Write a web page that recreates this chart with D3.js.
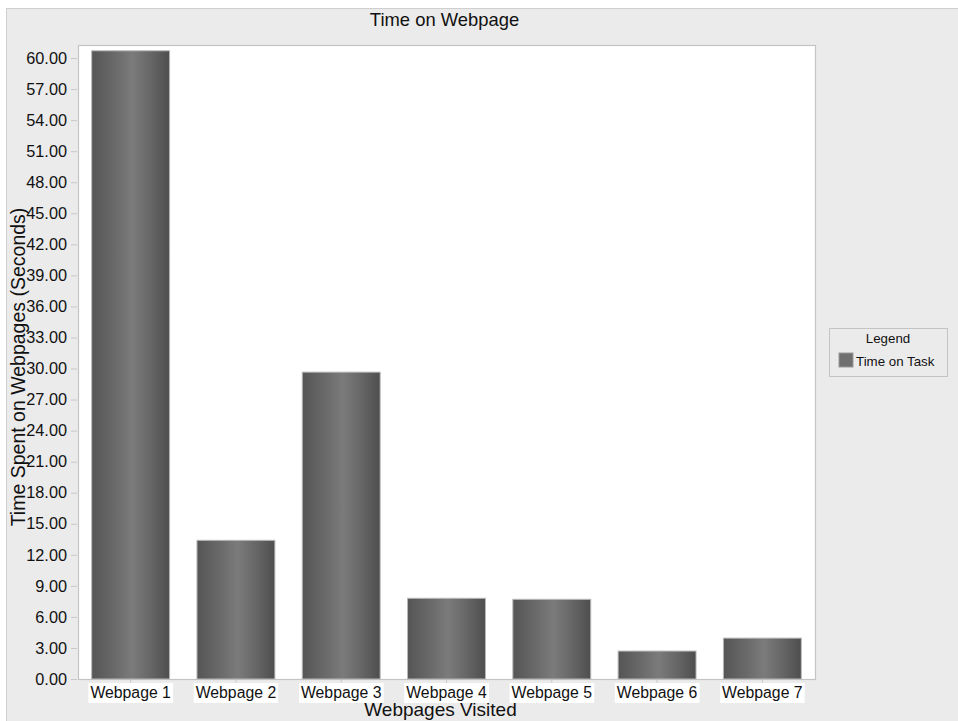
<!DOCTYPE html>
<html>
<head>
<meta charset="utf-8">
<script src="https://cdn.jsdelivr.net/npm/d3@7"></script>
<style>
  html, body { margin: 0; padding: 0; background: #ffffff; }
  svg { display: block; font-family: "Liberation Sans", Arial, sans-serif; }
</style>
</head>
<body>
<svg id="chart" width="958" height="721"></svg>
<script>
// Time spent on each webpage (seconds)
const categories = ["Webpage 1", "Webpage 2", "Webpage 3", "Webpage 4", "Webpage 5", "Webpage 6", "Webpage 7"];
const timeOnTask = [60.7, 13.4, 29.65, 7.8, 7.7, 2.7, 3.95];
const yTicks = [0, 3, 6, 9, 12, 15, 18, 21, 24, 27, 30, 33, 36, 39, 42, 45, 48, 51, 54, 57, 60];
const seriesName = "Time on Task";

const svg = d3.select("#chart");
const W = 958, H = 721;
const plot = { left: 78, right: 815, top: 45, bottom: 679 };
const FONT = "'Liberation Sans', Arial, sans-serif";

// Outer panel
svg.append("rect").attr("x", 0).attr("y", 0).attr("width", W).attr("height", H).attr("fill", "#ffffff");
svg.append("rect").attr("x", 6.5).attr("y", 8.5).attr("width", W).attr("height", H)
  .attr("fill", "#ebebeb").attr("stroke", "#cfcfcf").attr("stroke-width", 1);

// Plot background
svg.append("rect").attr("x", plot.left + 0.5).attr("y", plot.top + 0.5)
  .attr("width", plot.right - plot.left).attr("height", plot.bottom - plot.top)
  .attr("fill", "#ffffff").attr("stroke", "#c4c4c4").attr("stroke-width", 1.2);

const x = d3.scaleBand().domain(categories).range([plot.left, plot.right])
  .paddingInner(0.26).paddingOuter(0.13);
const y = d3.scaleLinear().domain([0, 61.26]).range([plot.bottom, plot.top]);

// Bar shading: dark edges, lighter middle
const defs = svg.append("defs");
const grad = defs.append("linearGradient").attr("id", "barGrad")
  .attr("x1", "0%").attr("x2", "100%").attr("y1", "0%").attr("y2", "0%");
[[0, "#555555"], [0.3, "#6a6a6a"], [0.52, "#7b7b7b"], [0.75, "#676767"], [1, "#4e4e4e"]]
  .forEach(([o, c]) => grad.append("stop").attr("offset", o).attr("stop-color", c));

// Bars
svg.append("g").selectAll("rect").data(categories).join("rect")
  .attr("x", d => x(d))
  .attr("y", (d, i) => y(timeOnTask[i]))
  .attr("width", x.bandwidth())
  .attr("height", (d, i) => y(0) - y(timeOnTask[i]))
  .attr("fill", "url(#barGrad)")
  .attr("stroke", "#b8b8b8").attr("stroke-width", 1);

// Y axis
const yAxis = d3.axisLeft(y).tickValues(yTicks).tickFormat(d3.format(".2f")).tickSize(6).tickPadding(4);
const gy = svg.append("g").attr("transform", `translate(${plot.left - 1},0)`).call(yAxis);
gy.select(".domain").remove();
gy.selectAll(".tick line").attr("stroke", "#c8c8c8");
gy.selectAll(".tick text").attr("fill", "#111").style("font-size", "16.3px")
  .style("font-family", FONT);

// X axis
const xAxis = d3.axisBottom(x).tickSize(3).tickPadding(6);
const gx = svg.append("g").attr("transform", `translate(0,${plot.bottom + 1})`).call(xAxis);
gx.select(".domain").remove();
gx.selectAll(".tick line").attr("stroke", "#c8c8c8");
gx.selectAll(".tick text").attr("fill", "#111").style("font-size", "15.8px")
  .style("font-family", FONT)
  .attr("y", 18).attr("dy", 0);
// White label backgrounds
gx.selectAll(".tick").each(function () {
  const t = d3.select(this).select("text");
  const bb = t.node().getBBox();
  d3.select(this).insert("rect", "text")
    .attr("x", bb.x - 2).attr("y", 3)
    .attr("width", bb.width + 4).attr("height", 20)
    .attr("fill", "#ffffff");
});

// Titles
svg.append("text").attr("x", (plot.left + plot.right) / 2 - 2).attr("y", 26)
  .attr("text-anchor", "middle").attr("fill", "#111").style("font-size", "18.4px")
  .text("Time on Webpage");
svg.append("text").attr("x", (plot.left + plot.right) / 2 - 6).attr("y", 716)
  .attr("text-anchor", "middle").attr("fill", "#111").style("font-size", "19px")
  .text("Webpages Visited");
svg.append("text")
  .attr("transform", `translate(25,${367}) rotate(-90)`)
  .attr("text-anchor", "middle").attr("fill", "#111").style("font-size", "19.5px")
  .text("Time Spent on Webpages (Seconds)");

// Legend
const lg = svg.append("g").attr("transform", "translate(829,328)");
lg.append("rect").attr("x", 0.5).attr("y", 0.5).attr("width", 118).attr("height", 48)
  .attr("fill", "#ebebeb").attr("stroke", "#c4c4c4");
lg.append("text").attr("x", 59).attr("y", 15).attr("text-anchor", "middle")
  .attr("fill", "#111").style("font-size", "13.3px").text("Legend");
lg.append("rect").attr("x", 10).attr("y", 25).attr("width", 14).attr("height", 14)
  .attr("fill", "#6f6f6f").attr("stroke", "#9a9a9a");
lg.append("text").attr("x", 27).attr("y", 37.5).attr("fill", "#111")
  .style("font-size", "13.3px").text(seriesName);
</script>
</body>
</html>
